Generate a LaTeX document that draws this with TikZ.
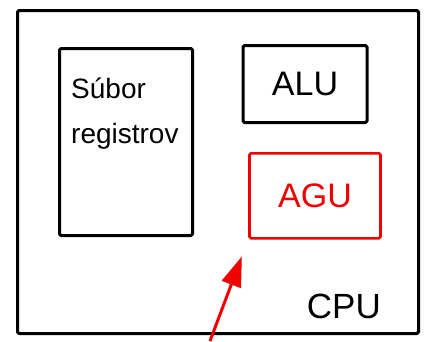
\documentclass[tikz,border=0pt]{standalone}
\usepackage{fontspec}
\setmainfont{Liberation Sans}
\usetikzlibrary{positioning,arrows.meta}
\definecolor{CPURed}{HTML}{F00000}

\begin{document}
\begin{tikzpicture}[
  x=1pt, y=-1pt,
  node distance=28pt,
  box/.style={draw=black, line width=3pt, line join=round, rounded corners=1.5pt, inner sep=0pt},
  unit/.style={box, font=\fontsize{34}{36}\selectfont},
  agu/.style={unit, draw=CPURed, text=CPURed, line width=2.6pt},
  arrow/.style={-{Triangle[length=30pt,width=20pt]}, line width=3pt, draw=CPURed}
]
\useasboundingbox (0,0) rectangle (429,341);
\node[box, minimum width=401pt, minimum height=323pt,
  label={[font=\fontsize{35}{36}\selectfont, anchor=south east, inner sep=0pt, xshift=-39pt, yshift=16pt]south east:CPU}] (cpu) at (218,172) {};
\node[box, minimum width=133pt, minimum height=187pt,
  label={[font=\fontsize{28}{45}\selectfont, anchor=north west, align=left, inner sep=0pt, xshift=13pt, yshift=-31pt]north west:Súbor\\registrov}] (reg) at (126,142) {};
\node[unit, minimum width=124pt, minimum height=77pt] (alu) at (305,84) {ALU};
\node[agu, minimum width=131pt, minimum height=85pt, below=of alu, xshift=10pt] (agu) {AGU};
\coordinate (src) at (210,341);
\draw[arrow, shorten >=18pt] (src) -- (agu.south west);
\end{tikzpicture}
\end{document}
